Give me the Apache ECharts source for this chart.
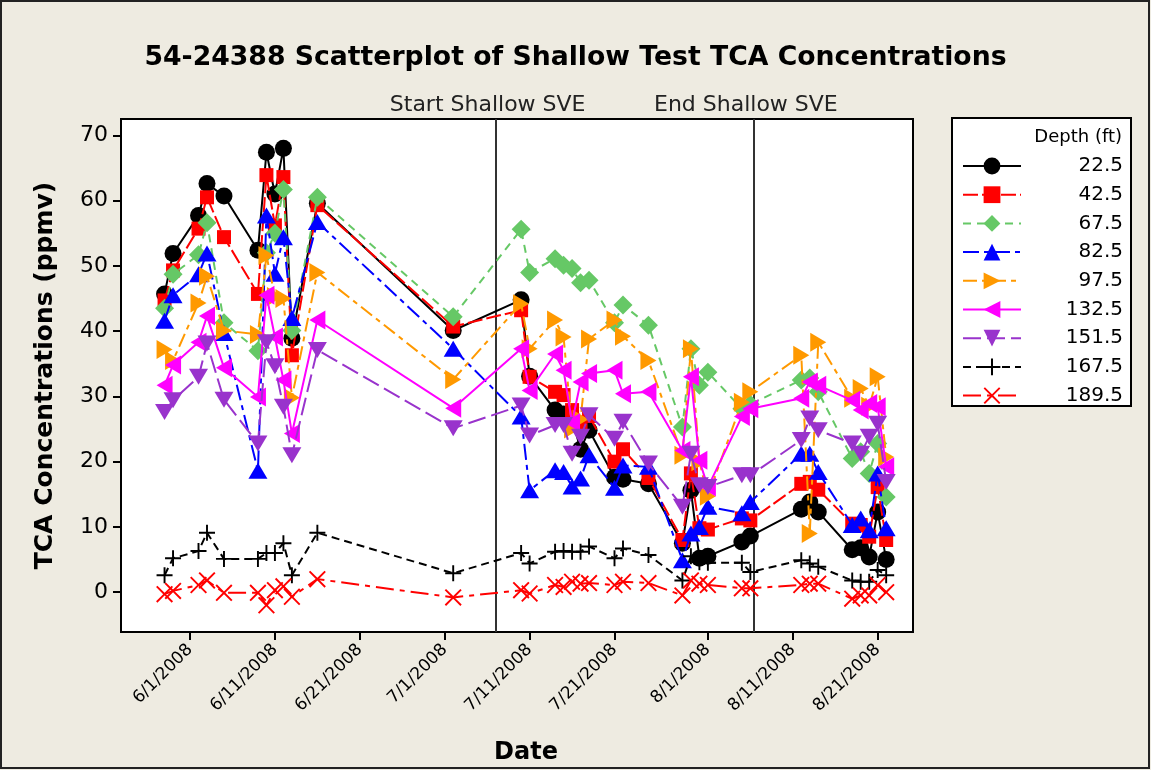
<!DOCTYPE html>
<html>
<head>
<meta charset="utf-8">
<script src="https://cdn.jsdelivr.net/npm/echarts@6/dist/echarts.min.js"></script>
<style>
html,body{margin:0;padding:0;background:#EEEBE1;}
#chart{width:1151px;height:770px;}
</style>
</head>
<body>
<div id="chart"></div>
<script>
// ---- data ----
const dates = ['2008-05-29','2008-05-30','2008-06-02','2008-06-03','2008-06-05','2008-06-09','2008-06-10','2008-06-11','2008-06-12','2008-06-13','2008-06-16','2008-07-02','2008-07-10','2008-07-11','2008-07-14','2008-07-15','2008-07-16','2008-07-17','2008-07-18','2008-07-21','2008-07-22','2008-07-25','2008-07-29','2008-07-30','2008-07-31','2008-08-01','2008-08-05','2008-08-06','2008-08-12','2008-08-13','2008-08-14','2008-08-18','2008-08-19','2008-08-20','2008-08-21','2008-08-22'];
const depthNames = ['22.5','42.5','67.5','82.5','97.5','132.5','151.5','167.5','189.5'];
const d22_5  = [45.7,51.9,57.7,62.6,60.7,52.4,67.4,61.0,68.0,38.9,59.6,40.1,44.8,33.1,27.9,27.3,26.5,21.9,24.8,17.6,17.3,16.6,7.5,15.6,5.2,5.5,7.7,8.6,12.7,13.8,12.3,6.5,6.8,5.4,12.3,5.0];
const d42_5  = [44.7,49.3,55.7,60.5,54.4,45.7,63.9,56.2,63.6,36.3,59.3,40.7,43.2,33.0,30.7,30.2,27.9,25.5,27.0,20.0,21.9,17.5,8.0,18.2,9.8,9.6,11.3,11.0,16.6,16.9,15.7,10.5,10.3,8.5,16.1,8.0];
const d67_5  = [43.5,48.7,51.7,56.6,41.3,37.0,52.0,55.0,61.7,40.1,60.5,42.2,55.6,49.0,51.1,50.1,49.6,47.4,47.8,41.3,44.0,40.9,25.3,37.3,31.7,33.7,28.1,28.8,32.5,32.8,30.7,20.5,21.5,18.2,22.8,14.6];
const d82_5  = [41.6,45.5,48.7,51.9,39.7,18.6,57.7,48.8,54.4,42.0,56.7,37.3,26.9,15.6,18.7,18.4,16.2,17.4,21.0,16.0,19.4,19.2,4.9,9.0,10.0,13.1,12.1,13.8,21.2,21.2,18.4,10.3,11.3,9.5,18.2,9.8];
const d97_5  = [37.2,35.5,44.3,48.4,40.1,39.5,51.6,45.3,45.0,29.8,49.0,32.6,44.2,37.3,41.7,39.1,25.0,26.5,38.8,41.7,39.2,35.5,21.0,37.3,20.0,14.7,29.1,30.7,36.3,9.0,38.3,29.7,31.2,28.5,33.0,20.7];
const d132_5 = [31.7,34.8,38.3,42.3,34.4,29.9,45.5,39.1,32.5,24.3,41.7,28.2,37.3,30.9,36.5,34.0,26.0,32.2,33.5,34.0,30.4,30.7,21.7,33.0,20.2,16.1,26.9,28.1,29.7,32.2,31.7,29.4,27.9,28.9,28.4,19.2];
const d151_5 = [27.6,29.4,33.0,38.1,29.5,22.8,38.3,34.6,28.4,21.0,37.1,25.1,28.6,24.0,25.6,25.6,21.2,23.8,27.1,23.5,26.1,19.7,13.1,21.2,16.4,16.1,17.9,17.9,23.3,26.6,24.8,22.8,21.2,23.8,25.8,16.9];
const d167_5 = [2.6,5.2,6.3,9.1,5.1,5.1,6.0,6.0,7.5,2.6,9.1,2.9,6.0,4.4,6.2,6.3,6.2,6.2,7.0,5.2,6.7,5.7,1.8,5.5,4.6,4.5,4.5,3.1,4.9,4.4,3.9,1.8,1.6,1.6,3.4,2.6];
const d189_5 = [-0.3,0.2,1.1,1.8,-0.1,-0.1,-2.0,0.3,0.9,-0.7,2.0,-0.8,0.3,-0.2,1.1,0.8,1.6,1.3,1.4,1.1,1.6,1.4,-0.5,1.8,1.3,1.1,0.6,0.6,1.1,1.3,1.3,-1.0,-0.5,-0.5,1.1,0.0];
const xTickDates = ['2008-06-01','2008-06-11','2008-06-21','2008-07-01','2008-07-11','2008-07-21','2008-08-01','2008-08-11','2008-08-21'];
const yTicks = [0,10,20,30,40,50,60,70];
const sveStart = '2008-07-07T00:00';
const sveEnd = '2008-08-06T10:00';

// ---- helpers ----
function ts(s){ const p=s.split('T'); const d=p[0].split('-').map(Number); let h=0,m=0; if(p[1]){const t=p[1].split(':').map(Number);h=t[0];m=t[1];} return Date.UTC(d[0],d[1]-1,d[2],h,m); }
function fmt(v){ const d=new Date(v); return (d.getUTCMonth()+1)+'/'+d.getUTCDate()+'/'+d.getUTCFullYear(); }
const DAY = 86400000;
const june1 = ts('2008-06-01');

const styles = [
  {color:'#000000', symbol:'circle', size:17, dash:'solid'},
  {color:'#FF0000', symbol:'rect', size:14, dash:[15,4]},
  {color:'#66C866', symbol:'diamond', size:19, dash:[8,6]},
  {color:'#0000FF', symbol:'triangle', size:[19,16], dash:[16,5,5,5]},
  {color:'#FF9900', symbol:'path://M0,0L10,5L0,10Z', size:[16,19], dash:[14,5,5,5]},
  {color:'#FF00FF', symbol:'path://M10,0L0,5L10,10Z', size:[16,19], dash:'solid'},
  {color:'#9933CC', symbol:'path://M0,0L10,0L5,10Z', size:[19,16], dash:[18,6]},
  {color:'#000000', symbol:'path://M4.4,0H5.6V4.4H10V5.6H5.6V10H4.4V5.6H0V4.4H4.4Z', size:16, dash:[8,5]},
  {color:'#FF0000', symbol:'path://M0.8,0L5,4.2L9.2,0L10,0.8L5.8,5L10,9.2L9.2,10L5,5.8L0.8,10L0,9.2L4.2,5L0,0.8Z', size:17, dash:[18,6,5,6]}
];
const allData = [d22_5,d42_5,d67_5,d82_5,d97_5,d132_5,d151_5,d167_5,d189_5];

const FONT = 'DejaVu Sans';

const series = allData.map((vals,i)=>{
  const st = styles[i];
  const s = {
    name: depthNames[i],
    type: 'line',
    data: dates.map((d,k)=>[ts(d), vals[k]]),
    symbol: st.symbol,
    symbolSize: st.size,
    showAllSymbol: true,
    itemStyle: {color: st.color, opacity:1},
    lineStyle: {color: st.color, width: 2, type: st.dash},
    emphasis: {disabled:true},
    z: 2 + i
  };
  if(i===0){
    s.markLine = {
      silent: true,
      symbol: ['none','none'],
      lineStyle: {color:'#333333', width:2, type:'solid'},
      label: {show:true, position:'end', formatter:'{b}', fontFamily:FONT, fontSize:22, color:'#222', distance:3, padding:[0,16,0,0]},
      data: [
        {name:'Start Shallow SVE', xAxis: ts(sveStart)},
        {name:'End Shallow SVE', xAxis: ts(sveEnd)}
      ],
      z: 1
    };
  }
  return s;
});

const chart = echarts.init(document.getElementById('chart'), null, {renderer:'canvas'});
chart.setOption({
  animation: false,
  backgroundColor: '#EEEBE1',
  textStyle: {fontFamily: FONT},
  title: [
    {text:'54-24388 Scatterplot of Shallow Test TCA Concentrations', left:'center', top:40,
     textStyle:{fontFamily:FONT, fontSize:26.7, fontWeight:'bold', color:'#000'}},
    {text:'Depth (ft)', right:29, top:128, padding:0, textStyle:{fontFamily:FONT, fontSize:18, fontWeight:'normal', color:'#000'}}
  ],
  legend: {
    orient:'vertical', left:952, top:118,
    padding:[38,8,0,10],
    itemWidth:58, itemHeight:21, itemGap:8.7,
    selectedMode:false,
    data: depthNames,
    formatter: n => '{r|' + n + '}',
    textStyle: {fontFamily:FONT, fontSize:20, color:'#000',
      rich:{ r:{ width:97, align:'right', fontFamily:FONT, fontSize:20, lineHeight:20, color:'#000'} } }
  },
  grid: {left:121, top:119, right:238, bottom:138, show:true, backgroundColor:'#FFFFFF', borderColor:'#000', borderWidth:2},
  xAxis: {
    type:'value',
    min: june1 - 8.13*DAY, max: june1 + 85.16*DAY,
    name:'Date', nameLocation:'middle', nameGap:109,
    nameTextStyle:{fontFamily:FONT, fontSize:24, fontWeight:'bold', color:'#000', padding:[0,0,0,18]},
    axisLine:{show:true, onZero:false, lineStyle:{color:'#000', width:2}},
    axisTick:{show:true, length:8, lineStyle:{color:'#000', width:2}, customValues: xTickDates.map(ts)},
    axisLabel:{rotate:45, fontFamily:FONT, fontSize:17, color:'#000', margin:15, formatter: fmt, customValues: xTickDates.map(ts)},
    splitLine:{show:false}
  },
  yAxis: {
    type:'value', min:-6.1, max:72.5,
    name:'TCA Concentrations (ppmv)', nameLocation:'middle', nameGap:63,
    nameTextStyle:{fontFamily:FONT, fontSize:25, fontWeight:'bold', color:'#000'},
    axisLine:{show:true, onZero:false, lineStyle:{color:'#000', width:2}},
    axisTick:{show:true, length:8, lineStyle:{color:'#000', width:2}, customValues: yTicks},
    axisLabel:{fontFamily:FONT, fontSize:22, color:'#000', margin:13, customValues: yTicks},
    splitLine:{show:false}
  },
  graphic: [
    {type:'rect', shape:{x:952, y:118, width:179, height:288}, style:{fill:'#FFFFFF', stroke:'#000', lineWidth:2}, silent:true, z:-1},
    {type:'rect', shape:{x:1, y:1, width:1148, height:767}, style:{fill:'none', stroke:'#222', lineWidth:2}, silent:true, z:100}
  ],
  series: series
});
</script>
</body>
</html>
